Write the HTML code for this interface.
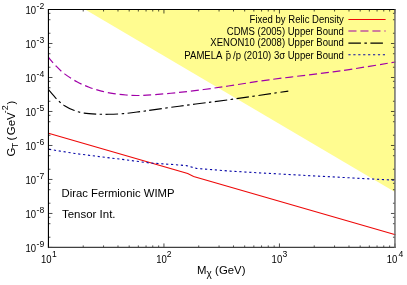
<!DOCTYPE html>
<html><head><meta charset="utf-8"><style>
html,body{margin:0;padding:0;background:#fff;overflow:hidden;width:407px;height:285px}
svg{display:block;will-change:transform}
text{font-family:"Liberation Sans",sans-serif;fill:#000}
.t{font-size:10.6px}
.b{font-size:11px}
.s{font-size:8.6px}
.l{font-size:10.7px}
</style></head><body>
<svg width="407" height="285" viewBox="0 0 407 285">
<rect width="407" height="285" fill="#fff"/>
<polygon points="85.2,9.5 394.95,9.5 394.95,192.0" fill="#fffc90"/>
<path d="M48.5,133.2 L187.7,173.6 L193.6,176.5 L395.5,234.7" fill="none" stroke="#ee0808" stroke-width="1.05"/>
<path d="M48.50,57.50 C49.75,58.92 53.32,63.27 56.00,66.00 C58.68,68.73 61.12,71.27 64.60,73.90 C68.08,76.53 72.82,79.58 76.90,81.80 C80.98,84.02 85.02,85.65 89.10,87.20 C93.18,88.75 97.30,90.03 101.40,91.10 C105.50,92.17 109.60,92.95 113.70,93.60 C117.80,94.25 121.90,94.68 126.00,95.00 C130.10,95.32 133.53,95.57 138.30,95.50 C143.07,95.43 147.80,95.12 154.60,94.60 C161.40,94.08 170.92,93.25 179.10,92.40 C187.28,91.55 195.50,90.57 203.70,89.50 C211.90,88.43 217.40,87.62 228.30,86.00 C239.20,84.38 254.10,81.85 269.10,79.80 C284.10,77.75 305.23,75.37 318.30,73.70 C331.37,72.03 334.63,71.75 347.50,69.80 C360.37,67.85 387.50,63.30 395.50,62.00" fill="none" stroke="#a000a8" stroke-width="1.18" stroke-dasharray="8.05 3.87" stroke-dashoffset="1.07"/>
<path d="M48.50,89.70 C49.95,91.35 54.52,96.93 57.20,99.60 C59.88,102.27 61.73,103.87 64.60,105.70 C67.47,107.53 71.13,109.37 74.40,110.60 C77.67,111.83 80.52,112.52 84.20,113.10 C87.88,113.68 92.40,113.90 96.50,114.10 C100.60,114.30 104.30,114.38 108.80,114.30 C113.30,114.22 118.58,114.00 123.50,113.60 C128.42,113.20 133.12,112.57 138.30,111.90 C143.48,111.23 147.80,110.55 154.60,109.60 C161.40,108.65 170.92,107.30 179.10,106.20 C187.28,105.10 195.50,104.07 203.70,103.00 C211.90,101.93 214.20,101.78 228.30,99.80 C242.40,97.82 278.30,92.55 288.30,91.10" fill="none" stroke="#000" stroke-width="1.12" stroke-dasharray="12.5 3.5 2.5 3.5" stroke-dashoffset="0.6"/>
<path d="M48.5,149.2 L75.0,153.5 L100.0,156.7 L124.6,159.7 L149.1,162.9 L173.7,164.6 L186.2,165.6 L196.5,168.4 L230.0,171.1 L253.0,172.5 L303.0,175.3 L353.0,178.0 L395.5,180.2" fill="none" stroke="#0808a8" stroke-width="1.1" stroke-dasharray="2.2 2.72" stroke-dashoffset="4.39"/>
<path d="M48.45,247.45 v-4.0 M48.45,9.5 v4.0 M83.22,247.45 v-2.0 M83.22,9.5 v2.0 M103.56,247.45 v-2.0 M103.56,9.5 v2.0 M117.99,247.45 v-2.0 M117.99,9.5 v2.0 M129.18,247.45 v-2.0 M129.18,9.5 v2.0 M138.33,247.45 v-2.0 M138.33,9.5 v2.0 M146.06,247.45 v-2.0 M146.06,9.5 v2.0 M152.76,247.45 v-2.0 M152.76,9.5 v2.0 M158.67,247.45 v-2.0 M158.67,9.5 v2.0 M163.95,247.45 v-4.0 M163.95,9.5 v4.0 M198.72,247.45 v-2.0 M198.72,9.5 v2.0 M219.06,247.45 v-2.0 M219.06,9.5 v2.0 M233.49,247.45 v-2.0 M233.49,9.5 v2.0 M244.68,247.45 v-2.0 M244.68,9.5 v2.0 M253.83,247.45 v-2.0 M253.83,9.5 v2.0 M261.56,247.45 v-2.0 M261.56,9.5 v2.0 M268.26,247.45 v-2.0 M268.26,9.5 v2.0 M274.17,247.45 v-2.0 M274.17,9.5 v2.0 M279.45,247.45 v-4.0 M279.45,9.5 v4.0 M314.22,247.45 v-2.0 M314.22,9.5 v2.0 M334.56,247.45 v-2.0 M334.56,9.5 v2.0 M348.99,247.45 v-2.0 M348.99,9.5 v2.0 M360.18,247.45 v-2.0 M360.18,9.5 v2.0 M369.33,247.45 v-2.0 M369.33,9.5 v2.0 M377.06,247.45 v-2.0 M377.06,9.5 v2.0 M383.76,247.45 v-2.0 M383.76,9.5 v2.0 M389.67,247.45 v-2.0 M389.67,9.5 v2.0 M394.95,247.45 v-4.0 M394.95,9.5 v4.0 M48.45,247.45 h4.0 M394.95,247.45 h-4.0 M48.45,237.22 h2.0 M394.95,237.22 h-2.0 M48.45,223.69 h2.0 M394.95,223.69 h-2.0 M48.45,217.32 h2.0 M394.95,217.32 h-2.0 M48.45,213.46 h4.0 M394.95,213.46 h-4.0 M48.45,203.22 h2.0 M394.95,203.22 h-2.0 M48.45,189.70 h2.0 M394.95,189.70 h-2.0 M48.45,183.32 h2.0 M394.95,183.32 h-2.0 M48.45,179.46 h4.0 M394.95,179.46 h-4.0 M48.45,169.23 h2.0 M394.95,169.23 h-2.0 M48.45,155.70 h2.0 M394.95,155.70 h-2.0 M48.45,149.33 h2.0 M394.95,149.33 h-2.0 M48.45,145.47 h4.0 M394.95,145.47 h-4.0 M48.45,135.24 h2.0 M394.95,135.24 h-2.0 M48.45,121.71 h2.0 M394.95,121.71 h-2.0 M48.45,115.34 h2.0 M394.95,115.34 h-2.0 M48.45,111.48 h4.0 M394.95,111.48 h-4.0 M48.45,101.25 h2.0 M394.95,101.25 h-2.0 M48.45,87.72 h2.0 M394.95,87.72 h-2.0 M48.45,81.34 h2.0 M394.95,81.34 h-2.0 M48.45,77.49 h4.0 M394.95,77.49 h-4.0 M48.45,67.25 h2.0 M394.95,67.25 h-2.0 M48.45,53.73 h2.0 M394.95,53.73 h-2.0 M48.45,47.35 h2.0 M394.95,47.35 h-2.0 M48.45,43.49 h4.0 M394.95,43.49 h-4.0 M48.45,33.26 h2.0 M394.95,33.26 h-2.0 M48.45,19.73 h2.0 M394.95,19.73 h-2.0 M48.45,13.36 h2.0 M394.95,13.36 h-2.0 M48.45,9.50 h4.0 M394.95,9.50 h-4.0" fill="none" stroke="#000" stroke-width="0.7"/>
<path d="M47.900000000000006,9.5 H395.55" stroke="#000" stroke-width="1.15"/>
<path d="M48.45,9.5 V248.04999999999998" stroke="#000" stroke-width="1.15"/>
<path d="M48.45,247.45 H395.65" stroke="#404040" stroke-width="1.2"/>
<path d="M394.95,9.5 V248.04999999999998" stroke="#6a6a6a" stroke-width="1.45"/>
<text transform="translate(36.1,14) scale(0.9,1)" text-anchor="end" class="t">10</text><text x="36.6" y="9" class="s">-2</text>
<text transform="translate(36.1,48) scale(0.9,1)" text-anchor="end" class="t">10</text><text x="36.6" y="43" class="s">-3</text>
<text transform="translate(36.1,82) scale(0.9,1)" text-anchor="end" class="t">10</text><text x="36.6" y="77" class="s">-4</text>
<text transform="translate(36.1,116) scale(0.9,1)" text-anchor="end" class="t">10</text><text x="36.6" y="111" class="s">-5</text>
<text transform="translate(36.1,150) scale(0.9,1)" text-anchor="end" class="t">10</text><text x="36.6" y="145" class="s">-6</text>
<text transform="translate(36.1,184) scale(0.9,1)" text-anchor="end" class="t">10</text><text x="36.6" y="179" class="s">-7</text>
<text transform="translate(36.1,218) scale(0.9,1)" text-anchor="end" class="t">10</text><text x="36.6" y="213" class="s">-8</text>
<text transform="translate(36.1,252) scale(0.9,1)" text-anchor="end" class="t">10</text><text x="36.6" y="247" class="s">-9</text>

<text transform="translate(51.5,263.1) scale(0.9,1)" text-anchor="end" class="t">10</text><text x="52.0" y="256.9" class="s">1</text>
<text transform="translate(166.8,263.1) scale(0.9,1)" text-anchor="end" class="t">10</text><text x="166.8" y="256.9" class="s">2</text>
<text transform="translate(282.2,263.1) scale(0.9,1)" text-anchor="end" class="t">10</text><text x="282.5" y="256.9" class="s">3</text>
<text transform="translate(397.4,263.1) scale(0.9,1)" text-anchor="end" class="t">10</text><text x="398.4" y="256.9" class="s">4</text>

<text transform="translate(14.7,156.6) rotate(-90) scale(1.045,1)" font-size="10.9" text-anchor="start" >G</text>
<text transform="translate(18.0,148.2) rotate(-90) scale(1.045,1)" font-size="8.5" text-anchor="start" >T</text>
<text transform="translate(14.7,140.4) rotate(-90) scale(1.045,1)" font-size="10.9" text-anchor="start" >(</text>
<text transform="translate(14.7,135.3) rotate(-90) scale(1.055,1)" font-size="10.9" text-anchor="start" >GeV</text>
<text transform="translate(8.0,113.2) rotate(-90) scale(1.045,1)" font-size="8.5" text-anchor="start" >-2</text>
<text transform="translate(14.7,104.4) rotate(-90) scale(1.045,1)" font-size="10.9" text-anchor="start" >)</text>
<text transform="translate(196.9,273.6) rotate(0) scale(1.045,1)" font-size="10.9" text-anchor="start" >M</text>
<text transform="translate(206.5,277.4) rotate(0) scale(1.0,1)" font-size="10" text-anchor="start" >χ</text>
<text transform="translate(215.1,273.6) rotate(0) scale(1.045,1)" font-size="10.9" text-anchor="start" >(GeV)</text>
<text transform="translate(343.9,22.7) scale(0.892,1)" text-anchor="end" class="l">Fixed by Relic Density</text>
<text transform="translate(343.9,34.9) scale(0.892,1)" text-anchor="end" class="l">CDMS (2005) Upper Bound</text>
<text transform="translate(343.9,46.3) scale(0.892,1)" text-anchor="end" class="l">XENON10 (2008) Upper Bound</text>
<text transform="translate(184.3,59.3) scale(0.897,1)" class="l">PAMELA</text>
<text transform="translate(225.7,59.3) scale(0.897,1)" class="l">p</text>
<path d="M226.0,51.4 H229.1" stroke="#000" stroke-width="0.8"/>
<text transform="translate(343.9,59.3) scale(0.892,1)" text-anchor="end" class="l">/p (2010) 3σ Upper Bound</text>
<path d="M348.4,19.4 H385.6" stroke="#ee0808" stroke-width="1.05"/>
<path d="M348.4,31 H385.6" stroke="#a000a8" stroke-width="1.18" stroke-dasharray="8.1 3.9"/>
<path d="M348.4,43.1 H385.6" stroke="#000" stroke-width="1.12" stroke-dasharray="12.5 3.5 2.5 3.5"/>
<path d="M348.4,54.7 H385.6" stroke="#0808a8" stroke-width="1.1" stroke-dasharray="2.2 2.72"/>
<text x="61.5" y="197" class="b" textLength="113" lengthAdjust="spacingAndGlyphs">Dirac Fermionic WIMP</text>
<text x="62" y="218" class="b" textLength="53.5" lengthAdjust="spacingAndGlyphs">Tensor Int.</text>
</svg>
</body></html>
